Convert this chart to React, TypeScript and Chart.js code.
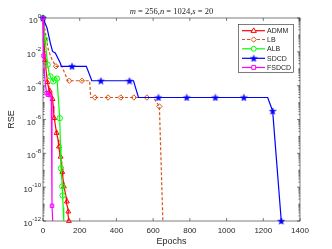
import { useEffect, useRef } from 'react';
import { Chart, registerables } from 'chart.js';
Chart.register(...registerables);

// ---- data ----
const epochTicks = [0, 200, 400, 600, 800, 1000, 1200, 1400];
const rseExponents = [0, -2, -4, -6, -8, -10, -12];
const titleParts = [
  { t: 'm', i: true }, { t: ' = 256,', i: false },
  { t: 'n', i: true }, { t: ' = 1024,', i: false },
  { t: 's', i: true }, { t: ' = 20', i: false },
];
const seriesNames = ['ADMM', 'LB', 'ALB', 'SDCD', 'FSDCD'];

const admmEpochs = [0, 4, 8, 12, 16, 20, 24, 28, 32, 37, 42, 47, 52, 56, 59, 61, 64, 68, 71, 74, 78, 82, 85, 87, 90, 93, 96, 99, 102, 105, 108, 111, 114, 117, 121, 126, 130, 128, 134, 138, 136, 141];
const admmRSE = [1, 0.1, 0.0126, 3.2e-3, 1e-3, 4e-4, 1.6e-4, 1e-4, 6.3e-5, 5e-5, 3.2e-5, 3.5e-5, 1.6e-5, 6.3e-6, 2e-6, 1.2e-6, 7.9e-7, 4e-7, 2.5e-7, 1.6e-7, 1e-7, 6.3e-8, 3.2e-8, 2.5e-8, 1.26e-8, 7.9e-9, 6.3e-9, 3.2e-9, 1.6e-9, 7.9e-10, 4e-10, 2e-10, 1.1e-10, 7.9e-11, 5e-11, 2.5e-11, 1.4e-11, 1e-11, 6.3e-12, 3.6e-12, 2.5e-12, 1e-12];
const admmMarks = [0, 3, 6, 9, 12, 15, 19, 23, 26, 29, 32, 36, 39, 41];

const lbEpochs = [0, 15, 29, 50, 71, 103, 135, 143, 212, 254, 260, 283, 354, 424, 495, 566, 602, 634, 653];
const lbRSE = [1, 0.1, 0.0132, 3.2e-3, 1.4e-3, 1.4e-3, 1.95e-4, 1.95e-4, 1.95e-4, 1.95e-4, 2e-5, 2e-5, 2e-5, 2e-5, 2e-5, 2e-5, 2e-5, 5.9e-6, 1e-12];
const lbMarks = [0, 4, 7, 8, 11, 12, 13, 14, 15, 17];

const albEpochs = [0, 6, 12, 18, 25, 32, 40, 48, 56, 66, 76, 84, 91, 95, 98, 102, 105, 107, 110, 113];
const albRSE = [1, 0.158, 0.0525, 0.01, 1.74e-3, 6.3e-4, 3.5e-4, 2.5e-4, 1.8e-4, 3.2e-4, 2.6e-4, 1.6e-5, 1.2e-6, 3.2e-8, 1.3e-9, 3.2e-10, 1.1e-10, 3.2e-11, 6.3e-12, 1e-12];
const albMarks = [0, 2, 4, 6, 8, 10, 12, 14, 16, 17];

const sdcdEpochs = [0, 22, 40, 52, 67, 94, 100, 158, 236, 266, 315, 471, 493, 520, 629, 783, 939, 1094, 1224, 1251, 1298];
const sdcdRSE = [1, 0.257, 0.033, 0.0105, 8.5e-3, 2.2e-3, 1.4e-3, 1.4e-3, 1.4e-3, 1.95e-4, 1.95e-4, 1.95e-4, 1.95e-4, 2e-5, 2e-5, 2e-5, 2e-5, 2e-5, 2e-5, 3.2e-6, 1e-12];
const sdcdMarks = [0, 7, 10, 11, 14, 15, 16, 17, 19, 20];

const fsdcdEpochs = [0, 3, 8, 14, 20, 27, 38, 45, 49, 53];
const fsdcdRSE = [1, 5.9e-3, 5e-4, 1e-4, 3.6e-5, 2.9e-5, 2.75e-5, 2e-5, 7.9e-12, 1e-12];
const fsdcdMarks = [0, 1, 4, 5, 6, 8];

// ---- styles ----
const colors = ['#FF0000', '#D95319', '#00FF00', '#0000FF', '#FF00FF'];
const AXIS = '#262626';

function makeStar(color: string): HTMLCanvasElement {
  const c = document.createElement('canvas');
  const s = 8;
  c.width = s; c.height = s;
  const ctx = c.getContext('2d')!;
  ctx.fillStyle = color; ctx.strokeStyle = color; ctx.lineWidth = 0.5;
  ctx.beginPath();
  const R = 3.6, r = R * 0.42;
  for (let i = 0; i < 10; i++) {
    const a = -Math.PI / 2 + (i * Math.PI) / 5;
    const rr = i % 2 === 0 ? R : r;
    const x = s / 2 + rr * Math.cos(a);
    const y = s / 2 + 0.4 + rr * Math.sin(a);
    if (i) ctx.lineTo(x, y); else ctx.moveTo(x, y);
  }
  ctx.closePath(); ctx.fill(); ctx.stroke();
  return c;
}

export default function App() {
  const ref = useRef<HTMLCanvasElement | null>(null);
  useEffect(() => {
    document.body.style.margin = '0';
    const star = makeStar(colors[3]);
    const styles: any[] = ['triangle', 'rectRot', 'circle', star, 'rect'];
    const dashes = [[], [3, 2], [], [], []];
    const xs = [admmEpochs, lbEpochs, albEpochs, sdcdEpochs, fsdcdEpochs];
    const ys = [admmRSE, lbRSE, albRSE, sdcdRSE, fsdcdRSE];
    const marks = [admmMarks, lbMarks, albMarks, sdcdMarks, fsdcdMarks];
    const radii = [2.8, 2.7, 2.7, 3, 2.4];

    const datasets = seriesNames.map((name, k) => ({
      label: name,
      data: xs[k].map((e, i) => ({ x: e, y: ys[k][i] })),
      borderColor: colors[k],
      borderWidth: 1.2,
      borderDash: dashes[k],
      pointStyle: styles[k],
      pointRadius: (c: any) => (marks[k].includes(c.dataIndex) ? radii[k] : 0),
      pointHoverRadius: 0,
      pointBorderColor: colors[k],
      pointBackgroundColor: k === 3 ? colors[k] : 'rgba(0,0,0,0)',
      pointBorderWidth: 1,
      tension: 0,
      fill: false,
      clip: false as any,
      order: 5 - k,
    }));

    const deco = {
      id: 'deco',
      beforeDatasetsDraw(chart: any) {
        const { ctx, chartArea: a, scales } = chart;
        const y = scales.y;
        ctx.save();
        ctx.strokeStyle = AXIS;
        ctx.lineWidth = 0.6;
        ctx.strokeRect(a.left, a.top, a.right - a.left, a.bottom - a.top);
        ctx.beginPath();
        epochTicks.forEach((t) => {
          const px = scales.x.getPixelForValue(t);
          ctx.moveTo(px, a.bottom); ctx.lineTo(px, a.bottom - 3);
          ctx.moveTo(px, a.top); ctx.lineTo(px, a.top + 3);
        });
        for (let e = -12; e <= 0; e++) {
          for (let m = 1; m <= 9; m++) {
            const v = m * Math.pow(10, e);
            if (v > 1) break;
            const py = y.getPixelForValue(v);
            const major = m === 1 && rseExponents.includes(e);
            const len = major ? 3 : 1.6;
            ctx.moveTo(a.left, py); ctx.lineTo(a.left + len, py);
            ctx.moveTo(a.right, py); ctx.lineTo(a.right - len, py);
          }
        }
        ctx.stroke();
        // y tick labels
        ctx.fillStyle = AXIS;
        ctx.textBaseline = 'alphabetic';
        ctx.textAlign = 'left';
        rseExponents.forEach((e) => {
          const py = y.getPixelForValue(Math.pow(10, e));
          const ex = String(e);
          ctx.font = '6px "Liberation Sans", Arial, sans-serif';
          const ew = ctx.measureText(ex).width;
          ctx.font = '8px "Liberation Sans", Arial, sans-serif';
          const bw = ctx.measureText('10').width;
          const xEnd = a.left - 2;
          ctx.fillText('10', xEnd - ew - bw, py + 5);
          ctx.font = '6px "Liberation Sans", Arial, sans-serif';
          ctx.fillText(ex, xEnd - ew, py - 0.5);
        });
        // axis titles
        ctx.font = '9px "Liberation Sans", Arial, sans-serif';
        ctx.textAlign = 'center';
        ctx.textBaseline = 'middle';
        ctx.fillText('Epochs', (a.left + a.right) / 2, 242);
        ctx.save();
        ctx.translate(12, (a.top + a.bottom) / 2);
        ctx.rotate(-Math.PI / 2);
        ctx.fillText('RSE', 0, 0);
        ctx.restore();
        // title
        const fs = 8.5;
        const fonts = titleParts.map((p) => `${p.i ? 'italic ' : ''}${fs}px "Liberation Serif", "DejaVu Serif", serif`);
        let total = 0;
        const widths = titleParts.map((p, i) => { ctx.font = fonts[i]; const w = ctx.measureText(p.t).width; total += w; return w; });
        let tx = (a.left + a.right) / 2 - total / 2;
        ctx.textAlign = 'left';
        titleParts.forEach((p, i) => { ctx.font = fonts[i]; ctx.fillText(p.t, tx, 12); tx += widths[i]; });
        ctx.restore();
      },
      afterDraw(chart: any) {
        const { ctx } = chart;
        ctx.save();
        const bx = 238.5, by = 24.5, bw = 55, bh = 48;
        ctx.fillStyle = '#FFFFFF';
        ctx.fillRect(bx, by, bw, bh);
        ctx.strokeStyle = AXIS;
        ctx.lineWidth = 0.6;
        ctx.strokeRect(bx, by, bw, bh);
        const rowY = [30.7, 39.5, 48.8, 58.3, 67.5];
        seriesNames.forEach((name, k) => {
          const yy = rowY[k];
          ctx.beginPath();
          ctx.strokeStyle = colors[k];
          ctx.lineWidth = 1.2;
          ctx.setLineDash(dashes[k]);
          ctx.moveTo(242, yy); ctx.lineTo(265, yy);
          ctx.stroke();
          ctx.setLineDash([]);
          if (k === 3) {
            ctx.drawImage(star, 253.7 - star.width / 2, yy - star.height / 2);
          } else {
            ctx.strokeStyle = colors[k];
            ctx.lineWidth = 1;
            ctx.fillStyle = '#FFFFFF';
            ctx.beginPath();
            const r = radii[k];
            const cx = 253.7;
            if (k === 0) {
              ctx.moveTo(cx, yy - r); ctx.lineTo(cx + r * 0.95, yy + r * 0.6); ctx.lineTo(cx - r * 0.95, yy + r * 0.6); ctx.closePath();
            } else if (k === 1) {
              ctx.moveTo(cx, yy - r); ctx.lineTo(cx + r, yy); ctx.lineTo(cx, yy + r); ctx.lineTo(cx - r, yy); ctx.closePath();
            } else if (k === 2) {
              ctx.arc(cx, yy, r * 0.9, 0, Math.PI * 2);
            } else {
              ctx.rect(cx - r * 0.8, yy - r * 0.8, r * 1.6, r * 1.6);
            }
            ctx.fill(); ctx.stroke();
          }
          ctx.fillStyle = AXIS;
          ctx.font = '7px "Liberation Sans", Arial, sans-serif';
          ctx.textAlign = 'left';
          ctx.textBaseline = 'middle';
          ctx.fillText(name, 267, yy + 0.5);
        });
        ctx.restore();
      },
    };

    const chart = new Chart(ref.current!, {
      type: 'line',
      data: { datasets: datasets as any },
      options: {
        animation: false,
        responsive: false,
        devicePixelRatio: 1,
        layout: { padding: { top: 18, right: 32, left: 0, bottom: 0 } },
        plugins: { legend: { display: false }, title: { display: false }, tooltip: { enabled: false } },
        events: [],
        scales: {
          x: {
            type: 'linear',
            min: 0,
            max: 1400,
            afterBuildTicks: (s: any) => { s.ticks = epochTicks.map((v) => ({ value: v })); },
            afterFit: (s: any) => { s.height = 28; },
            grid: { display: false, drawTicks: false },
            border: { display: false },
            ticks: {
              color: AXIS,
              padding: 5,
              maxRotation: 0,
              autoSkip: false,
              font: { family: '"Liberation Sans", Arial, sans-serif', size: 8 },
              callback: (v: any) => String(v),
            },
          },
          y: {
            type: 'logarithmic',
            min: 1e-12,
            max: 1,
            afterFit: (s: any) => { s.width = 43; },
            grid: { display: false, drawTicks: false },
            border: { display: false },
            ticks: { display: false },
          },
        },
      },
      plugins: [deco],
    });
    return () => chart.destroy();
  }, []);
  return (
    <div style={{ position: 'absolute', left: 0, top: 0, width: 332, height: 249, background: '#fff' }}>
      <canvas ref={ref} width={332} height={249} style={{ width: 332, height: 249, display: 'block' }} />
    </div>
  );
}
